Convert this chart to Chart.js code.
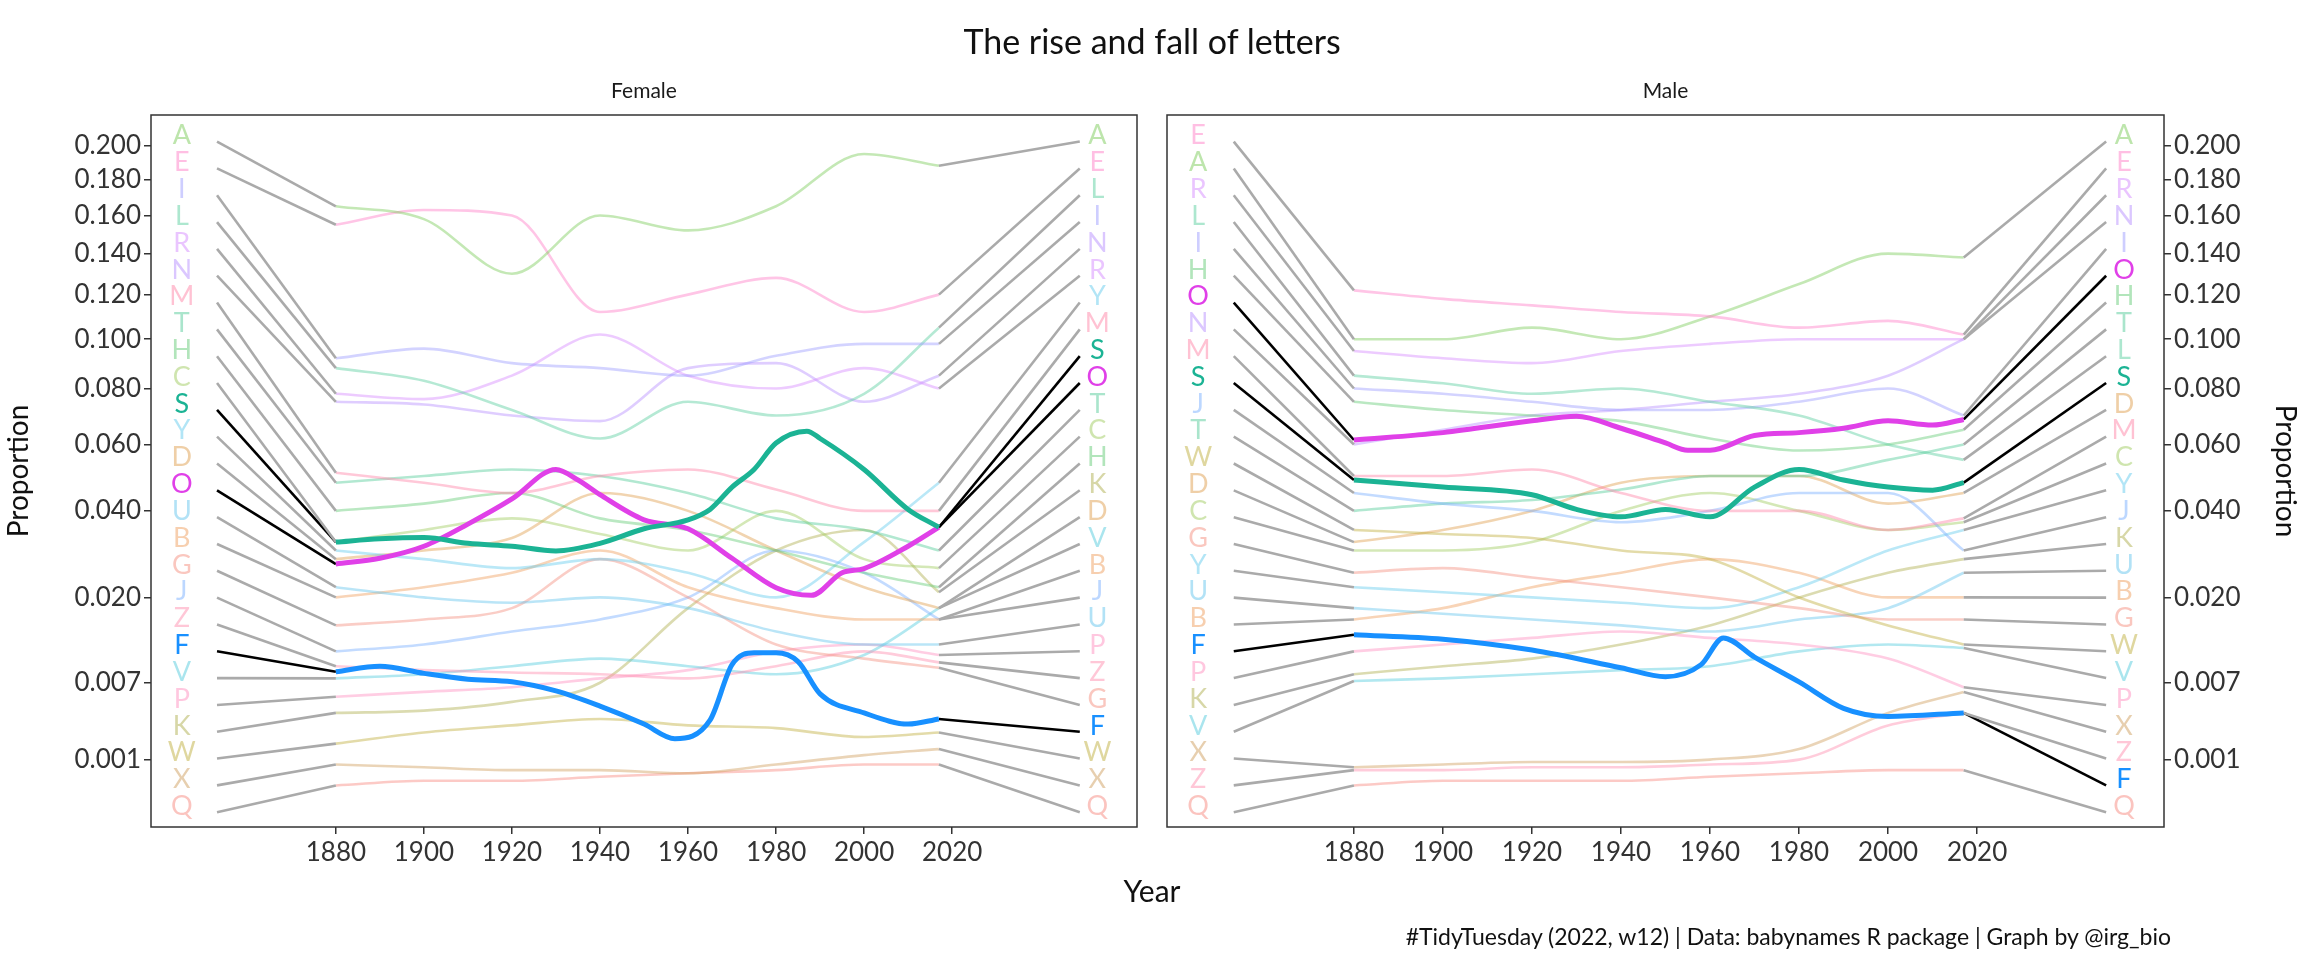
<!DOCTYPE html>
<html>
<head>
<meta charset="utf-8">
<script src="https://cdn.jsdelivr.net/npm/chart.js@4.4.1/dist/chart.umd.min.js"></script>
<style>
  body { margin: 0; background: #fff; font-family: Lato, sans-serif; }
  #wrap { position: relative; width: 2304px; height: 960px; }
  .box { position: absolute; top: 0; height: 960px; }
  #title { position: absolute; top: 20px; width: 2304px; text-align: center; font-size: 34px; color: #111; }
  #xlab { position: absolute; top: 872px; left: 0; width: 2304px; text-align: center; font-size: 30px; color: #111; }
  #cap { position: absolute; top: 922px; right: 133px; font-size: 23px; color: #111; }
</style>
</head>
<body>
<div id="wrap">
  <div class="box" style="left:0;width:1150px"><canvas id="female"></canvas></div>
  <div class="box" style="left:1152px;width:1152px"><canvas id="male"></canvas></div>
  <div id="title">The rise and fall of letters</div>
  <div id="xlab">Year</div>
  <div id="cap">#TidyTuesday (2022, w12) | Data: babynames R package | Graph by @irg_bio</div>
</div>
<script>
// coarse series for the faded letters
const years = [1880, 1900, 1920, 1940, 1960, 1980, 2000, 2017];

const femaleLetters = ["A","E","I","L","R","N","M","T","H","C","Y","D","U","B","G","J","Z","V","P","K","W","X","Q"];
const femaleValues = [
  [.165,.158,.130,.160,.152,.165,.195,.188],
  [.155,.163,.160,.112,.120,.128,.112,.120],
  [.092,.096,.090,.088,.085,.093,.098,.098],
  [.088,.083,.072,.062,.075,.070,.078,.105],
  [.078,.076,.085,.102,.085,.080,.088,.080],
  [.075,.074,.070,.068,.088,.090,.075,.085],
  [.051,.048,.045,.050,.052,.046,.040,.040],
  [.048,.050,.052,.050,.045,.038,.035,.030],
  [.040,.042,.045,.038,.035,.030,.025,.022],
  [.032,.035,.038,.034,.030,.040,.028,.026],
  [.030,.028,.026,.028,.025,.020,.032,.048],
  [.028,.030,.033,.045,.040,.030,.022,.018],
  [.022,.020,.019,.020,.018,.014,.012,.012],
  [.020,.022,.025,.030,.022,.018,.016,.016],
  [.015,.016,.018,.028,.020,.012,.010,.0088],
  [.011,.012,.014,.016,.020,.030,.025,.016],
  [.009,.0085,.0082,.008,.0075,.009,.011,.0095],
  [.0075,.008,.009,.010,.009,.008,.0105,.018],
  [.0055,.006,.0065,.0075,.0085,.011,.012,.0105],
  [.004,.0042,.005,.007,.018,.030,.035,.021],
  [.0018,.0025,.003,.0035,.003,.0028,.0022,.0025],
  [.0008,.0007,.0006,.0006,.0005,.0008,.0012,.0015],
  [.0002,.0003,.0003,.0004,.0005,.0006,.0008,.0008]
];

const maleLetters = ["E","A","R","L","I","H","N","M","J","T","W","D","C","G","Y","U","B","P","K","V","X","Z","Q"];
const maleValues = [
  [.122,.118,.115,.112,.110,.105,.108,.102],
  [.100,.100,.105,.100,.110,.125,.140,.138],
  [.095,.092,.090,.095,.098,.100,.100,.100],
  [.085,.082,.078,.080,.075,.070,.060,.055],
  [.080,.078,.075,.072,.072,.075,.080,.070],
  [.075,.072,.070,.068,.062,.058,.060,.065],
  [.060,.065,.070,.072,.075,.078,.085,.100],
  [.050,.050,.052,.045,.040,.040,.035,.038],
  [.045,.042,.040,.037,.040,.045,.045,.030],
  [.040,.042,.043,.046,.050,.050,.055,.060],
  [.035,.034,.033,.030,.028,.020,.015,.012],
  [.032,.035,.040,.048,.050,.050,.042,.045],
  [.030,.030,.032,.040,.045,.040,.035,.037],
  [.025,.026,.024,.022,.020,.018,.016,.016],
  [.022,.021,.020,.019,.018,.022,.030,.035],
  [.018,.017,.016,.015,.014,.016,.018,.025],
  [.016,.018,.022,.025,.028,.025,.020,.020],
  [.011,.012,.013,.014,.013,.012,.010,.0065],
  [.008,.009,.010,.012,.015,.020,.025,.028],
  [.0072,.0075,.008,.0085,.009,.011,.012,.0115],
  [.0007,.0008,.0009,.0009,.001,.0015,.004,.006],
  [.0006,.0006,.0007,.0007,.0008,.001,.003,.004],
  [.0002,.0003,.0003,.0003,.0004,.0005,.0006,.0006]
];

// highlighted letters, finer series
const fSYears = [1880,1890,1900,1910,1920,1930,1940,1950,1960,1965,1970,1975,1980,1987,1990,2000,2010,2017];
const fSValues = [.0320,.0328,.0331,.0317,.0310,.0299,.0317,.0353,.0376,.0404,.0467,.0520,.0605,.0645,.0620,.0520,.0404,.0357];
const fOYears = [1880,1890,1900,1910,1920,1930,1935,1940,1950,1960,1970,1980,1988,1995,2000,2010,2017];
const fOValues = [.0269,.0282,.0310,.0365,.0433,.0520,.0488,.0445,.0376,.0353,.0282,.0219,.0204,.0250,.0259,.0310,.0357];
const fFYears = [1880,1890,1900,1910,1920,1930,1940,1950,1957,1965,1970,1975,1980,1985,1990,2000,2010,2017];
const fFValues = [.0083,.0090,.0081,.0074,.0071,.0061,.0046,.0031,.0021,.0034,.0092,.0108,.0108,.0096,.0058,.0040,.0031,.0035];

const mOYears = [1880,1900,1920,1930,1940,1950,1955,1960,1970,1980,1990,2000,2010,2017];
const mOValues = [.0615,.0640,.0681,.0697,.0655,.0605,.0581,.0581,.0630,.0640,.0655,.0681,.0666,.0686];
const mSYears = [1880,1900,1920,1930,1940,1950,1960,1970,1980,1990,2000,2010,2017];
const mSValues = [.0488,.0467,.0445,.0404,.0384,.0404,.0384,.0467,.0520,.0488,.0467,.0458,.0480];
const mFYears = [1880,1900,1920,1940,1950,1958,1963,1970,1980,1990,2000,2017];
const mFValues = [.0135,.0128,.0112,.0088,.0077,.0092,.0130,.0102,.0071,.0044,.0037,.0040];

const yTicks = [0.001,0.007,0.020,0.040,0.060,0.080,0.100,0.120,0.140,0.160,0.180,0.200];
const xTicks = [1880,1900,1920,1940,1960,1980,2000,2020];

const letterColors = {
  A:"#7CCB5A", E:"#FF7FC8", I:"#9E9EFF", L:"#5CCFA0", R:"#D68BFF", N:"#B890FF", M:"#FF85A8",
  T:"#55CC99", H:"#66CC77", C:"#A0CC60", Y:"#66CCEE", D:"#E0A050", U:"#66C6EE", B:"#F0A060",
  G:"#F59080", J:"#7AB0FF", Z:"#FF8FB0", V:"#55CCDD", P:"#FF90C0", K:"#B0B050", W:"#C0B040",
  X:"#D0A060", Q:"#F88A80", S:"#1BB394", O:"#E040E8", F:"#1890FF"
};

function fade(hex, a) {
  const n = parseInt(hex.slice(1), 16);
  return `rgba(${n >> 16},${(n >> 8) & 255},${n & 255},${a})`;
}

const LABEL_TOP = 0.454;   // sqrt-space position of the top label
const LEFT_X = 1849, RIGHT_X = 2053;

function buildPanel(canvasId, name, letters, values, highlights, side) {
  const series = letters.map((l, i) => ({ letter: l, years: years, vals: values[i], hi: false }));
  highlights.forEach(h => series.push({ letter: h[0], years: h[1], vals: h[2], hi: true }));

  const step = LABEL_TOP / (series.length - 1);
  const leftOrder = series.slice().sort((a, b) => b.vals[0] - a.vals[0]);
  const rightOrder = series.slice().sort((a, b) => b.vals[b.vals.length - 1] - a.vals[a.vals.length - 1]);
  leftOrder.forEach((s, i) => s.lpos = LABEL_TOP - i * step);
  rightOrder.forEach((s, i) => s.rpos = LABEL_TOP - i * step);

  const datasets = [];
  series.forEach(s => {
    datasets.push({
      data: s.years.map((y, j) => ({ x: y, y: Math.sqrt(s.vals[j]) })),
      borderColor: s.hi ? letterColors[s.letter] : fade(letterColors[s.letter], 0.45),
      borderWidth: s.hi ? 5 : 2.6,
      cubicInterpolationMode: 'monotone',
      pointRadius: 0, order: s.hi ? 0 : 2
    });
    const conn = s.hi ? "#000" : "#aaaaaa";
    datasets.push({
      data: [{ x: LEFT_X + 4, y: s.lpos - 0.004 }, { x: 1880, y: Math.sqrt(s.vals[0]) }],
      borderColor: conn, borderWidth: 2.6, pointRadius: 0, order: 1
    });
    datasets.push({
      data: [{ x: 2017, y: Math.sqrt(s.vals[s.vals.length - 1]) }, { x: RIGHT_X - 4, y: s.rpos - 0.004 }],
      borderColor: conn, borderWidth: 2.6, pointRadius: 0, order: 1
    });
  });

  const decor = {
    id: 'decor',
    afterDatasetsDraw(chart) {
      const { ctx, chartArea: a, scales: { x, y } } = chart;
      ctx.save();
      ctx.strokeStyle = "#333"; ctx.lineWidth = 1.5;
      ctx.strokeRect(a.left, a.top, a.right - a.left, a.bottom - a.top);
      ctx.fillStyle = "#1a1a1a"; ctx.font = "21px Lato"; ctx.textAlign = "center"; ctx.textBaseline = "middle";
      ctx.fillText(name, (a.left + a.right) / 2, a.top - 24);
      ctx.font = "27px Lato";
      series.forEach(s => {
        ctx.fillStyle = s.hi ? letterColors[s.letter] : fade(letterColors[s.letter], 0.5);
        ctx.fillText(s.letter, x.getPixelForValue(LEFT_X - 4), y.getPixelForValue(s.lpos));
        ctx.fillText(s.letter, x.getPixelForValue(RIGHT_X), y.getPixelForValue(s.rpos));
      });
      ctx.restore();
    }
  };

  const isLeft = side === 'left';
  new Chart(document.getElementById(canvasId), {
    type: 'line',
    data: { datasets },
    plugins: [decor],
    options: {
      responsive: false, animation: false,
      devicePixelRatio: 1,
      layout: { padding: { top: 115, bottom: 88, left: isLeft ? 0 : 15, right: isLeft ? 13 : 0 } },
      plugins: { legend: { display: false }, tooltip: { enabled: false } },
      scales: {
        x: {
          type: 'linear', min: 1838, max: 2062,
          afterBuildTicks: sc => { sc.ticks = xTicks.map(v => ({ value: v })); },
          afterFit: sc => { sc.height = 45; },
          ticks: { color: "#333", font: { size: 26, family: "Lato" }, callback: v => String(v) },
          grid: { drawOnChartArea: false, drawTicks: true, tickLength: 7, color: "#333", lineWidth: 1.5 },
          border: { display: false }
        },
        y: {
          type: 'linear', position: side, min: -0.014, max: 0.468,
          afterBuildTicks: sc => { sc.ticks = yTicks.map(v => ({ value: Math.sqrt(v) })); },
          afterFit: sc => { sc.width = isLeft ? 151 : 140; },
          ticks: { color: "#333", font: { size: 26, family: "Lato" }, callback: v => (v * v).toFixed(3) },
          grid: { drawOnChartArea: false, drawTicks: true, tickLength: 7, color: "#333", lineWidth: 1.5 },
          border: { display: false },
          title: { display: true, text: "Proportion", color: "#111", font: { size: 28, family: "Lato" }, padding: 2 }
        }
      }
    }
  });
}

const fc = document.getElementById('female'); fc.width = 1150; fc.height = 960;
const mc = document.getElementById('male'); mc.width = 1152; mc.height = 960;

buildPanel('female', 'Female', femaleLetters, femaleValues,
  [["S", fSYears, fSValues], ["O", fOYears, fOValues], ["F", fFYears, fFValues]], 'left');
buildPanel('male', 'Male', maleLetters, maleValues,
  [["O", mOYears, mOValues], ["S", mSYears, mSValues], ["F", mFYears, mFValues]], 'right');
</script>
</body>
</html>
